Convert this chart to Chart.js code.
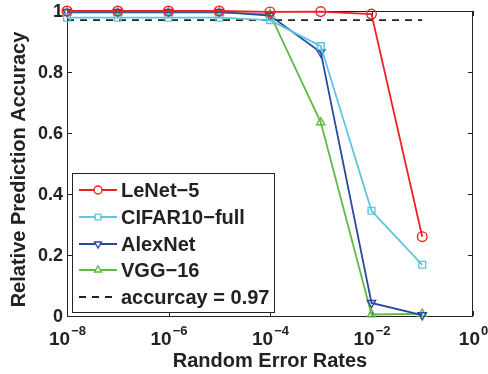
<!DOCTYPE html>
<html>
<head>
<meta charset="utf-8">
<script src="https://cdn.jsdelivr.net/npm/chart.js@4/dist/chart.umd.min.js"></script>
<style>
  html, body { margin: 0; padding: 0; background: #fff; }
</style>
</head>
<body>
<canvas id="acc-chart" width="488" height="374"></canvas>
<script>
// data
const errorRates = [1e-8, 1e-7, 1e-6, 1e-5, 1e-4, 1e-3, 1e-2, 1e-1];
const lenet5  = [1.000, 1.000, 1.000, 1.000, 0.997, 0.998, 0.990, 0.260];
const cifar10 = [0.978, 0.978, 0.978, 0.978, 0.970, 0.885, 0.345, 0.168];
const alexnet = [0.997, 0.997, 0.997, 0.997, 0.985, 0.865, 0.043, 0.003];
const vgg16   = [0.995, 0.995, 0.995, 0.995, 0.990, 0.635, 0.005, 0.007];
const threshold = 0.97;
const seriesNames = ['LeNet\u22125', 'CIFAR10\u2212full', 'AlexNet', 'VGG\u221216'];
const thresholdLabel = 'accurcay = 0.97';
const xTickExps = [-8, -6, -4, -2, 0];
const yTicks = [0, 0.2, 0.4, 0.6, 0.8, 1];

const FONT = '"Liberation Sans", Arial, sans-serif';
const INK = '#222';

function series(label, data, color, style, rotation) {
  return {
    label: label,
    data: errorRates.map((x, i) => ({ x: x, y: data[i] })),
    borderColor: color,
    backgroundColor: color,
    borderWidth: 1.8,
    pointStyle: style,
    pointRotation: rotation || 0,
    pointRadius: 4.8,
    pointBorderWidth: 1.4,
    pointBackgroundColor: 'rgba(255,255,255,0)',
    pointBorderColor: color,
    tension: 0,
    clip: false
  };
}

// box, inward ticks, tick labels, titles and legend (matlab look)
const matlabAxes = {
  id: 'matlabAxes',
  beforeDatasetsDraw(chart) {
    const { ctx, chartArea: a, scales } = chart;
    ctx.save();
    ctx.strokeStyle = INK;
    ctx.lineWidth = 1;
    ctx.strokeRect(a.left + 0.5, a.top + 0.5, a.right - a.left - 1, a.bottom - a.top);
    ctx.beginPath();
    xTickExps.forEach(e => {
      const x = Math.round(scales.x.getPixelForValue(Math.pow(10, e))) + 0.5;
      ctx.moveTo(x, a.bottom); ctx.lineTo(x, a.bottom - 5);
      ctx.moveTo(x, a.top); ctx.lineTo(x, a.top + 5);
    });
    yTicks.forEach(v => {
      const y = Math.round(scales.y.getPixelForValue(v)) + 0.5;
      ctx.moveTo(a.left, y); ctx.lineTo(a.left + 5, y);
      ctx.moveTo(a.right, y); ctx.lineTo(a.right - 5, y);
    });
    ctx.stroke();

    // y tick labels
    ctx.fillStyle = INK;
    ctx.font = 'bold 18px ' + FONT;
    ctx.textAlign = 'right';
    ctx.textBaseline = 'middle';
    yTicks.forEach(v => {
      ctx.fillText(String(v), a.left - 4, scales.y.getPixelForValue(v) + 1);
    });

    // x tick labels: 10 with superscript exponent
    ctx.textBaseline = 'alphabetic';
    ctx.textAlign = 'left';
    xTickExps.forEach(e => {
      const x = scales.x.getPixelForValue(Math.pow(10, e));
      const exp = e < 0 ? '\u2212' + Math.abs(e) : String(e);
      ctx.font = 'bold 19px ' + FONT;
      const w1 = ctx.measureText('10').width;
      ctx.font = 'bold 13px ' + FONT;
      const w2 = ctx.measureText(exp).width;
      const x0 = x - (w1 + w2) / 2;
      ctx.font = 'bold 19px ' + FONT;
      ctx.fillText('10', x0, a.bottom + 29);
      ctx.font = 'bold 13px ' + FONT;
      ctx.fillText(exp, x0 + w1 + 1, a.bottom + 19);
    });

    // axis titles
    ctx.font = 'bold 20px ' + FONT;
    ctx.textAlign = 'center';
    ctx.fillText('Random Error Rates', (a.left + a.right) / 2, a.bottom + 51);
    ctx.save();
    ctx.translate(25, (a.top + a.bottom) / 2 + 6);
    ctx.rotate(-Math.PI / 2);
    ctx.fillText('Relative Prediction Accuracy', 0, 0);
    ctx.restore();
    ctx.restore();
  },
  afterDraw(chart) {
    const { ctx, chartArea: a } = chart;
    const bx = a.left + 5, by = 173, bw = 202, bh = 139;
    ctx.save();
    ctx.fillStyle = '#fff';
    ctx.fillRect(bx, by, bw, bh);
    ctx.strokeStyle = INK;
    ctx.lineWidth = 1;
    ctx.strokeRect(bx + 0.5, by + 0.5, bw, bh);
    const rowY = [190, 217, 244, 270, 297];
    const x1 = bx + 7, x2 = bx + 45, xm = (x1 + x2) / 2;
    chart.data.datasets.forEach((ds, i) => {
      const y = rowY[i];
      ctx.strokeStyle = ds.borderColor;
      ctx.lineWidth = ds.borderWidth;
      ctx.setLineDash(ds.borderDash || []);
      ctx.beginPath();
      ctx.moveTo(x1, y); ctx.lineTo(x2, y);
      ctx.stroke();
      ctx.setLineDash([]);
      if (ds.pointRadius > 0) {
        ctx.fillStyle = '#fff';
        ctx.strokeStyle = ds.borderColor;
        ctx.lineWidth = ds.pointBorderWidth;
        Chart.helpers.drawPoint(ctx, {
          pointStyle: ds.pointStyle, radius: 4, rotation: ds.pointRotation, borderWidth: ds.pointBorderWidth
        }, xm, y);
      }
      ctx.fillStyle = INK;
      ctx.font = 'bold 20px ' + FONT;
      ctx.textAlign = 'left';
      ctx.textBaseline = 'middle';
      ctx.fillText(ds.label, x2 + 4, y + 1);
    });
    ctx.restore();
  }
};

const ctx = document.getElementById('acc-chart').getContext('2d');
new Chart(ctx, {
  type: 'line',
  data: {
    datasets: [
      series(seriesNames[0], lenet5, '#ee2024', 'circle'),
      series(seriesNames[1], cifar10, '#5cc6dc', 'rect'),
      series(seriesNames[2], alexnet, '#2a48a2', 'triangle', 180),
      series(seriesNames[3], vgg16, '#5fba45', 'triangle'),
      {
        label: thresholdLabel,
        data: errorRates.map(x => ({ x: x, y: threshold })),
        borderColor: INK,
        borderWidth: 1.8,
        borderDash: [7, 6],
        pointRadius: 0,
        clip: false
      }
    ]
  },
  options: {
    responsive: false,
    animation: false,
    layout: { padding: { top: 11, right: 15, left: 0, bottom: 0 } },
    scales: {
      x: {
        type: 'logarithmic',
        min: 1e-8,
        max: 1,
        grid: { display: false },
        border: { display: false },
        ticks: { display: false },
        afterFit(scale) { scale.height = 58; }
      },
      y: {
        min: 0,
        max: 1,
        grid: { display: false },
        border: { display: false },
        ticks: { display: false },
        afterFit(scale) { scale.width = 67; }
      }
    },
    plugins: {
      legend: { display: false },
      tooltip: { enabled: false }
    }
  },
  plugins: [matlabAxes]
});
</script>
</body>
</html>
